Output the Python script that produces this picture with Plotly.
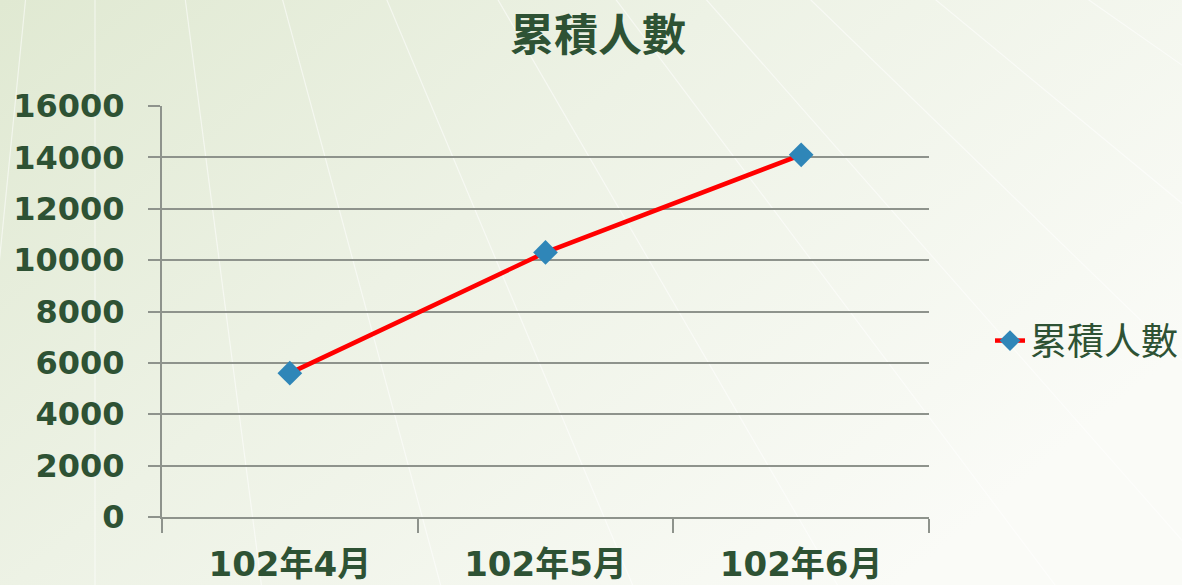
import base64

import plotly.graph_objects as go

months = ["102年4月", "102年5月", "102年6月"]
cumulative = [5600, 10300, 14100]
series_name = "累積人數"
y_ticks = [0, 2000, 4000, 6000, 8000, 10000, 12000, 14000, 16000]

TEXT = "#2e5234"
GRID = "#8e938c"
W, H = 1182, 585
L, R, T, B = 162, 253, 106, 68


def background_svg():
    """Pale green gradient with a fan of faint white rays, like the slide theme."""
    ox, oy = 95, -695
    rays = []
    for s in [-0.1, 0, 0.13, 0.27, 0.42, 0.58, 0.75, 0.88, 1.03, 1.21, 1.43]:
        x2, y2 = ox + s * 1400, oy + 1400
        rays.append(
            f'<line x1="{ox}" y1="{oy}" x2="{x2:.1f}" y2="{y2}" '
            'stroke="#ffffff" stroke-width="1.2" stroke-opacity="0.55"/>'
        )
    svg = (
        f'<svg xmlns="http://www.w3.org/2000/svg" width="{W}" height="{H}" '
        f'viewBox="0 0 {W} {H}" preserveAspectRatio="none">'
        '<defs><linearGradient id="g" x1="0" y1="0" x2="1" y2="0.6">'
        '<stop offset="0" stop-color="#e0e9d2"/>'
        '<stop offset="0.45" stop-color="#edf2e5"/>'
        '<stop offset="1" stop-color="#fafbf7"/>'
        '</linearGradient></defs>'
        f'<rect width="{W}" height="{H}" fill="url(#g)"/>'
        + "".join(rays)
        + "</svg>"
    )
    return "data:image/svg+xml;base64," + base64.b64encode(svg.encode()).decode()


pw, ph = W - L - R, H - T - B

fig = go.Figure(
    go.Scatter(
        x=months,
        y=cumulative,
        mode="lines+markers",
        name=series_name,
        line=dict(color="#ff0000", width=4.5),
        marker=dict(symbol="diamond", size=19, color="#2f86b8"),
    )
)

fig.add_layout_image(
    source=background_svg(),
    xref="paper",
    yref="paper",
    x=-L / pw,
    y=1 + T / ph,
    sizex=W / pw,
    sizey=H / ph,
    sizing="stretch",
    xanchor="left",
    yanchor="top",
    layer="below",
)

fig.update_layout(
    width=W,
    height=H,
    margin=dict(l=L, r=R, t=T, b=B, autoexpand=False),
    paper_bgcolor="#f2f5ec",
    plot_bgcolor="rgba(0,0,0,0)",
    title=dict(
        text=series_name,
        x=0.506,
        xanchor="center",
        y=1 - 36 / H,
        yanchor="middle",
        font=dict(family="Noto Sans CJK TC", size=44, color=TEXT, weight="bold"),
    ),
    showlegend=True,
    legend=dict(
        x=(990 - L) / pw,
        xanchor="left",
        y=(517 - 341) / ph,
        yanchor="middle",
        bgcolor="rgba(0,0,0,0)",
        font=dict(family="Noto Sans CJK TC", size=37, color=TEXT),
    ),
    xaxis=dict(
        type="category",
        range=[-0.5, 2.5],
        automargin=False,
        tickson="boundaries",
        ticks="outside",
        ticklen=14,
        tickwidth=2,
        tickcolor=GRID,
        showline=True,
        linecolor=GRID,
        linewidth=2,
        showgrid=False,
        ticklabelstandoff=16,
        tickfont=dict(family="DejaVu Sans, Noto Sans CJK TC",
                      size=34, color=TEXT, weight="bold"),
    ),
    yaxis=dict(
        range=[0, 16000],
        automargin=False,
        tickvals=y_ticks,
        tickformat="d",
        ticks="outside",
        ticklen=12,
        tickwidth=2,
        tickcolor=GRID,
        showline=True,
        linecolor=GRID,
        linewidth=2,
        showgrid=True,
        gridcolor=GRID,
        gridwidth=2,
        zeroline=False,
        ticklabelstandoff=17,
        tickfont=dict(family="DejaVu Sans", size=32, color=TEXT, weight="bold"),
    ),
)

fig.write_html(
    "out.html",
    config={"displayModeBar": False},
    post_script="document.body.style.margin='0';",
)
